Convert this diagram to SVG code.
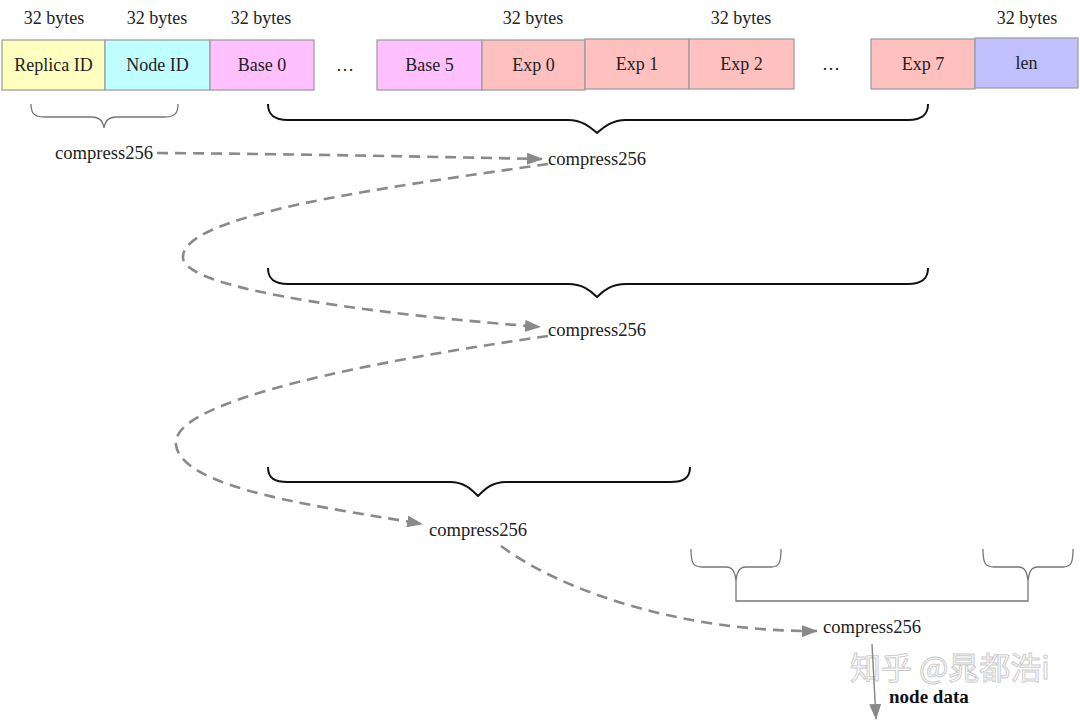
<svg xmlns="http://www.w3.org/2000/svg" width="1080" height="721" viewBox="0 0 1080 721">
  <style>
    .lbl { font-family: "Liberation Serif", "Times New Roman", serif; font-size: 18px; fill: #222; }
    .step { font-size: 18.6px; }
    .box text { text-anchor: middle; }
    .cell { stroke: #9a9a9a; stroke-width: 1.2; }
    .yellow { fill: #ffffc0; }
    .cyan { fill: #c0ffff; }
    .magenta { fill: #ffc0ff; }
    .salmon { fill: #ffc0c0; }
    .violet { fill: #c0c0ff; }
    .brace { fill: none; stroke: #111; stroke-width: 2; stroke-linejoin: round; }
    .brace-thin { fill: none; stroke: #777; stroke-width: 1.3; }
    .flow { fill: none; stroke: #8a8a8a; stroke-width: 2.6; stroke-dasharray: 11 7; marker-end: url(#head); }
    .out { fill: none; stroke: #8a8a8a; stroke-width: 1.5; marker-end: url(#head); }
    .mark { font-family: "Noto Sans CJK SC", "Noto Sans", sans-serif; font-size: 31px; fill: #fff; stroke: #c4c4c4; stroke-width: 1; opacity: 0.85; }
  </style>
  <defs>
    <marker id="head" viewBox="0 0 16 12" refX="15" refY="6" markerWidth="16" markerHeight="12" markerUnits="userSpaceOnUse" orient="auto">
      <path d="M0,0 L16,6 L0,12 z" fill="#8a8a8a"/>
    </marker>
  </defs>
  <rect width="1080" height="721" fill="#fff"/>

  <!-- size labels -->
  <g id="sizes" class="lbl" text-anchor="middle">
    <text x="54" y="24">32 bytes</text>
    <text x="157" y="24">32 bytes</text>
    <text x="261" y="24">32 bytes</text>
    <text x="533" y="24">32 bytes</text>
    <text x="741" y="24">32 bytes</text>
    <text x="1027" y="24">32 bytes</text>
  </g>

  <!-- input record cells -->
  <g id="replica-id" class="box"><rect class="cell yellow" x="2" y="40" width="103" height="50"/><text class="lbl" x="53.5" y="71">Replica ID</text></g>
  <g id="node-id" class="box"><rect class="cell cyan" x="105" y="40" width="105" height="50"/><text class="lbl" x="157.5" y="71">Node ID</text></g>
  <g id="base-0" class="box"><rect class="cell magenta" x="210" y="40" width="104" height="50"/><text class="lbl" x="262" y="71">Base 0</text></g>
  <g id="dots-1"><text class="lbl" x="345" y="71" text-anchor="middle">…</text></g>
  <g id="base-5" class="box"><rect class="cell magenta" x="377" y="40" width="105" height="50"/><text class="lbl" x="429.5" y="71">Base 5</text></g>
  <g id="exp-0" class="box"><rect class="cell salmon" x="482" y="40" width="103" height="50"/><text class="lbl" x="533.5" y="71">Exp 0</text></g>
  <g id="exp-1" class="box"><rect class="cell salmon" x="585" y="39" width="104" height="50"/><text class="lbl" x="637" y="70">Exp 1</text></g>
  <g id="exp-2" class="box"><rect class="cell salmon" x="689" y="39" width="105" height="50"/><text class="lbl" x="741.5" y="70">Exp 2</text></g>
  <g id="dots-2"><text class="lbl" x="831" y="70" text-anchor="middle">…</text></g>
  <g id="exp-7" class="box"><rect class="cell salmon" x="871" y="39" width="104" height="50"/><text class="lbl" x="923" y="70">Exp 7</text></g>
  <g id="len" class="box"><rect class="cell violet" x="975" y="38" width="103" height="50"/><text class="lbl" x="1026.5" y="69">len</text></g>

  <!-- braces grouping inputs -->
  <g id="braces">
    <path class="brace-thin" d="M31,104 C31,113 34,117 44,117 L92,117 C100,117 103,121 104,128 C105,121 108,117 116,117 L165,117 C175,117 178,113 178,104"/>
    <path class="brace" d="M268,104 C268,115 274,120 288,120 L568,120 C582,120 590,127 597,133 C604,127 612,120 626,120 L908,120 C922,120 928,115 928,104"/>
    <path class="brace" d="M268,268 C268,279 274,284 288,284 L568,284 C582,284 590,290 597,297 C604,290 612,284 626,284 L908,284 C922,284 928,279 928,268"/>
    <path class="brace" d="M268,467 C268,478 274,482 288,482 L450,482 C464,482 471,489 478,496 C485,489 492,482 506,482 L670,482 C684,482 690,478 690,467"/>
    <path class="brace-thin" d="M691,549 C691,563 693,567 702,567 L726,567 C733,567 735,572 736,581 C737,572 739,567 746,567 L771,567 C779,567 781,563 781,549"/>
    <path class="brace-thin" d="M983,549 C983,563 985,567 994,567 L1018,567 C1025,567 1027,572 1028,581 C1029,572 1031,567 1038,567 L1063,567 C1071,567 1073,563 1073,549"/>
    <path class="brace-thin" d="M736,581 L736,601 L1028,601 L1028,581"/>
  </g>

  <!-- hash steps -->
  <g id="hash-a"><text class="lbl step" x="55" y="159">compress256</text></g>
  <g id="hash-b"><text class="lbl step" x="548" y="165">compress256</text></g>
  <g id="hash-c"><text class="lbl step" x="548" y="336">compress256</text></g>
  <g id="hash-d"><text class="lbl step" x="429" y="536">compress256</text></g>
  <g id="hash-e"><text class="lbl step" x="823" y="633">compress256</text></g>

  <!-- watermark -->
  <text class="mark" x="850" y="679">知乎 @晁都浩i</text>

  <g id="output"><text x="889" y="703" style="font-family:'Liberation Serif',serif;font-size:19px;font-weight:bold;fill:#111">node data</text></g>

  <!-- connectors -->
  <g id="connectors">
    <path class="flow" d="M157,153 C300,154 440,157 542,159"/>
    <path class="flow" d="M548,164 C380,188 180,215 183,258 C186,292 400,316 540,327"/>
    <path class="flow" d="M548,336 C380,360 168,400 176,445 C182,490 330,508 422,524"/>
    <path class="flow" d="M501,546 C560,590 680,632 817,631"/>
    <path class="out" d="M872,644 L876,719"/>
  </g>
</svg>
